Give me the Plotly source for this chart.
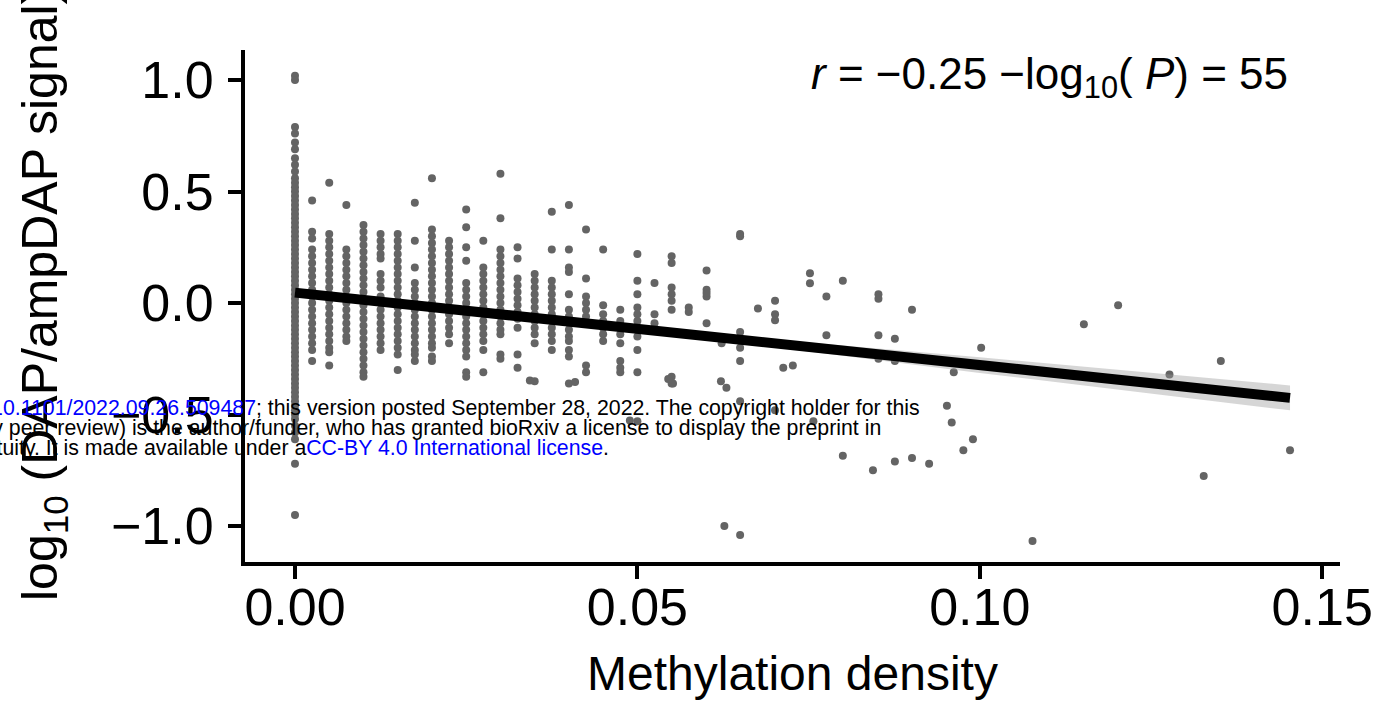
import plotly.graph_objects as go

# ---------------- tick labels ----------------
x_tick_vals = [0.0, 0.05, 0.10, 0.15]
x_tick_text = ["0.00", "0.05", "0.10", "0.15"]
y_tick_vals = [-1.0, -0.5, 0.0, 0.5, 1.0]
y_tick_text = ["\u22121.0", "\u22120.5", "0.0", "0.5", "1.0"]

# ---------------- data: columns of points at discrete methylation densities ----------------
column_x = [0.0, 0.0025, 0.005, 0.0075, 0.01, 0.0125, 0.015, 0.0175, 0.02, 0.0225,
            0.025, 0.0275, 0.03, 0.0325, 0.035, 0.0375, 0.04, 0.0425, 0.045, 0.0475,
            0.05, 0.0525, 0.055, 0.0575]

col00_y = [1.02, 1.0, 0.79, 0.76, 0.72, 0.69, 0.65, 0.62, 0.59, 0.56, 0.54, 0.52, 0.50, 0.48,
           0.46, 0.44, 0.42, 0.40, 0.38, 0.36, 0.34, 0.32, 0.30, 0.28, 0.26, 0.24, 0.22, 0.20,
           0.18, 0.16, 0.14, 0.12, 0.10, 0.08, 0.06, 0.04, 0.02, 0.0, -0.02, -0.04, -0.06,
           -0.08, -0.10, -0.12, -0.14, -0.16, -0.18, -0.20, -0.22, -0.24, -0.26, -0.28, -0.30,
           -0.32, -0.34, -0.36, -0.38, -0.40, -0.42, -0.44, -0.46, -0.48, -0.50, -0.52, -0.55,
           -0.58, -0.61, -0.72, -0.95]
col01_y = [0.46, 0.32, 0.29, 0.24, 0.21, 0.18, 0.15, 0.12, 0.09, 0.06, 0.03, 0.0, -0.03, -0.06,
           -0.09, -0.12, -0.15, -0.18, -0.21, -0.26]
col02_y = [0.54, 0.31, 0.28, 0.25, 0.22, 0.19, 0.16, 0.13, 0.10, 0.07, 0.04, 0.01, -0.02, -0.05,
           -0.08, -0.11, -0.14, -0.17, -0.20, -0.22, -0.28]
col03_y = [0.44, 0.24, 0.21, 0.18, 0.15, 0.12, 0.09, 0.06, 0.03, 0.0, -0.03, -0.06, -0.09, -0.12,
           -0.15, -0.17]
col04_y = [0.35, 0.32, 0.29, 0.26, 0.23, 0.20, 0.17, 0.14, 0.11, 0.08, 0.05, 0.02, -0.01, -0.04,
           -0.07, -0.10, -0.13, -0.16, -0.19, -0.22, -0.25, -0.28, -0.31, -0.33]
col05_y = [0.31, 0.28, 0.25, 0.22, 0.20, 0.13, 0.10, 0.07, 0.03, 0.0, -0.03, -0.06, -0.09, -0.12,
           -0.15, -0.18, -0.21]
col06_y = [0.31, 0.28, 0.25, 0.22, 0.19, 0.16, 0.13, 0.10, 0.07, 0.04, 0.01, -0.02, -0.05, -0.08,
           -0.11, -0.14, -0.17, -0.20, -0.23, -0.30]
col07_y = [0.45, 0.28, 0.16, 0.09, 0.06, 0.03, 0.0, -0.03, -0.06, -0.09, -0.12, -0.15, -0.18,
           -0.21, -0.23, -0.26]
col08_y = [0.56, 0.33, 0.30, 0.27, 0.24, 0.21, 0.18, 0.15, 0.12, 0.09, 0.06, 0.03, 0.0, -0.03,
           -0.06, -0.09, -0.12, -0.15, -0.18, -0.20, -0.24, -0.26]
col09_y = [0.28, 0.25, 0.22, 0.19, 0.16, 0.13, 0.10, 0.07, 0.04, 0.01, -0.02, -0.05, -0.08, -0.11,
           -0.14, -0.18]
col10_y = [0.42, 0.34, 0.25, 0.19, 0.09, 0.06, 0.03, 0.0, -0.03, -0.06, -0.09, -0.12, -0.15,
           -0.18, -0.21, -0.24, -0.31, -0.33]
col11_y = [0.28, 0.16, 0.13, 0.10, 0.07, 0.04, 0.01, -0.02, -0.05, -0.08, -0.11, -0.14, -0.17,
           -0.21, -0.31]
col12_y = [0.58, 0.38, 0.24, 0.21, 0.18, 0.15, 0.12, 0.09, 0.06, 0.03, 0.0, -0.03, -0.06, -0.09,
           -0.12, -0.14, -0.23, -0.25]
col13_y = [0.25, 0.20, 0.11, 0.08, 0.05, 0.02, -0.01, -0.04, -0.07, -0.11, -0.23, -0.29]
col14_y = [0.13, 0.10, 0.07, 0.04, 0.01, -0.02, -0.05, -0.08, -0.11, -0.14, -0.18, -0.35]
col15_y = [0.41, 0.24, 0.10, 0.07, 0.04, 0.01, -0.02, -0.05, -0.08, -0.11, -0.14, -0.17, -0.21]
col16_y = [0.44, 0.24, 0.16, 0.14, 0.04, -0.03, -0.06, -0.09, -0.12, -0.15, -0.17, -0.21,
           -0.24, -0.36]
col17_y = [0.33, 0.11, 0.03, 0.0, -0.03, -0.06, -0.09, -0.28, -0.31]
col18_y = [0.24, -0.01, -0.05, -0.08, -0.11, -0.14, -0.17]
col19_y = [-0.03, -0.08, -0.11, -0.14, -0.18, -0.26, -0.29, -0.31]
col20_y = [0.22, 0.10, 0.04, -0.02, -0.05, -0.08, -0.11, -0.15, -0.21, -0.31, -0.53]
col21_y = [0.09, -0.05, -0.09]
col22_y = [0.21, 0.18, 0.07, 0.04, 0.01, -0.03, -0.33, -0.36]
col23_y = [-0.02, -0.04]

column_y = [col00_y, col01_y, col02_y, col03_y, col04_y, col05_y, col06_y, col07_y,
            col08_y, col09_y, col10_y, col11_y, col12_y, col13_y, col14_y, col15_y,
            col16_y, col17_y, col18_y, col19_y, col20_y, col21_y, col22_y, col23_y]

# scattered points at higher densities
sparse_x = [0.0601, 0.0601, 0.0601, 0.0601, 0.0601,
            0.0622, 0.0630, 0.0623,
            0.065, 0.065, 0.065, 0.065, 0.065, 0.065,
            0.0627, 0.065,
            0.0676,
            0.0701, 0.0701, 0.0701, 0.0701,
            0.0713, 0.0727,
            0.0752, 0.0752, 0.0757,
            0.0776, 0.0776,
            0.080, 0.080,
            0.0844,
            0.0852, 0.0852, 0.0852, 0.0852,
            0.0876, 0.0876, 0.0876,
            0.0901, 0.0901,
            0.0926,
            0.0952, 0.0959, 0.0962, 0.0976, 0.099, 0.1002,
            0.1077, 0.1152, 0.1202, 0.1277, 0.1327, 0.1352, 0.1453,
            0.0343, 0.0409, 0.0489, 0.0545, 0.0552]
sparse_y = [0.146, 0.06, 0.03, 0.045, -0.09,
            -0.35, -0.38, -0.18,
            0.31, 0.30, -0.13, -0.20, -0.26, -0.44,
            -1.0, -1.04,
            -0.024,
            0.01, -0.05, -0.077, -0.48,
            -0.29, -0.28,
            0.134, 0.089, -0.53,
            0.03, -0.144,
            0.10, -0.685,
            -0.75,
            0.04, 0.02, -0.144, -0.25,
            -0.16, -0.26, -0.71,
            -0.03, -0.695,
            -0.72,
            -0.46, -0.535, -0.31, -0.66, -0.61, -0.20,
            -1.067, -0.095, -0.01, -0.32, -0.775, -0.26, -0.66,
            -0.347, -0.354, -0.527, -0.34, -0.36]

# regression fit and confidence band
fit_x = [0.0, 0.025, 0.05, 0.075, 0.10, 0.1453]
fit_y = [0.047, -0.034, -0.115, -0.197, -0.278, -0.425]
band_lo = [0.037, -0.040, -0.125, -0.217, -0.313, -0.481]
band_hi = [0.057, -0.028, -0.105, -0.177, -0.243, -0.369]

stat_text = "<i>r</i> = \u22120.25 \u2212log<sub>10</sub>( <i>P</i>) = 55"
x_title = "Methylation density"
y_title = "log<sub>10</sub> (DAP/ampDAP signal)"

wm_line1 = ("bioRxiv preprint doi: <span style='color:#0000ff'>https://doi.org/10.1101/2022.09.26.509487</span>"
            "; this version posted September 28, 2022. The copyright holder for this")
wm_line2 = ("preprint (which was not certified by peer review) is the author/funder, who has granted bioRxiv "
            "a license to display the preprint in")
wm_line3 = ("perpetuity. It is made available under a<span style='color:#0000ff'>CC-BY 4.0 International license</span>.")

# ---------------- build ----------------
point_x, point_y = [], []
for cx, ys in zip(column_x, column_y):
    for v in ys:
        point_x.append(cx)
        point_y.append(v)
point_x += sparse_x
point_y += sparse_y

FONT = "Liberation Sans, Arial, Helvetica, sans-serif"

fig = go.Figure()
fig.add_trace(go.Scatter(x=point_x, y=point_y, mode="markers",
                         marker=dict(size=8, color="#646464", line=dict(width=0)),
                         showlegend=False, hoverinfo="skip"))
fig.add_trace(go.Scatter(x=fit_x, y=band_lo, mode="lines", line=dict(width=0),
                         showlegend=False, hoverinfo="skip"))
fig.add_trace(go.Scatter(x=fit_x, y=band_hi, mode="lines", line=dict(width=0),
                         fill="tonexty", fillcolor="rgba(153,153,153,0.4)",
                         showlegend=False, hoverinfo="skip"))
fig.add_trace(go.Scatter(x=fit_x, y=fit_y, mode="lines",
                         line=dict(color="black", width=10),
                         showlegend=False, hoverinfo="skip"))

fig.update_layout(
    width=1389, height=714,
    margin=dict(l=245, r=49, t=50, b=152),
    plot_bgcolor="white", paper_bgcolor="white",
    font=dict(family=FONT, color="black"),
    xaxis=dict(range=[-0.0073, 0.1526], tickvals=x_tick_vals, ticktext=x_tick_text,
               showgrid=False, zeroline=False, showline=True, linecolor="black", linewidth=4,
               ticks="outside", ticklen=13, tickwidth=4, tickcolor="black",
               tickfont=dict(size=52, family=FONT, color="black"), ticklabelstandoff=-16),
    yaxis=dict(range=[-1.161, 1.135], tickvals=y_tick_vals, ticktext=y_tick_text,
               showgrid=False, zeroline=False, showline=True, linecolor="black", linewidth=4,
               ticks="outside", ticklen=13, tickwidth=4, tickcolor="black",
               tickfont=dict(size=52, family=FONT, color="black"), ticklabelstandoff=4),
)

fig.add_annotation(text=x_title, xref="paper", yref="paper", x=0.5, y=(562 - 673) / 512,
                   xanchor="center", yanchor="middle", showarrow=False,
                   font=dict(size=48, family=FONT, color="black"))
fig.add_annotation(text=y_title, xref="paper", yref="paper", x=(43 - 245) / 1095,
                   y=(562 - 295) / 512,
                   xanchor="center", yanchor="middle", textangle=-90, showarrow=False,
                   font=dict(size=50, family=FONT, color="black"))
fig.add_annotation(text=stat_text, xref="paper", yref="paper", x=(1290 - 245) / 1095,
                   y=(562 - 77) / 512, xanchor="right", yanchor="middle", showarrow=False,
                   font=dict(size=44, family=FONT, color="black"))

for txt, right_px, mid_py in [(wm_line1, 922, 408), (wm_line2, 883, 428), (wm_line3, 611, 448)]:
    fig.add_annotation(text=txt, xref="paper", yref="paper",
                       x=(right_px - 245) / 1095, y=(562 - mid_py) / 512,
                       xanchor="right", yanchor="middle", showarrow=False,
                       font=dict(size=21.3, family=FONT, color="black"))

fig.write_html("out.html", config={"displayModeBar": False},
               post_script="document.body.style.margin='0';")
